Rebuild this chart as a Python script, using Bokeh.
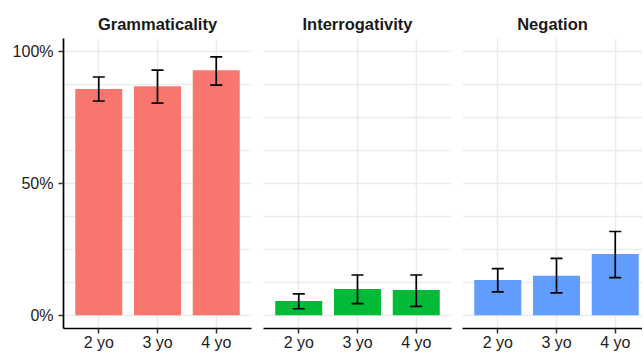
from bokeh.plotting import figure
from bokeh.layouts import row
from bokeh.models import Range1d, FixedTicker, ColumnDataSource, Whisker, TeeHead
from bokeh.embed import file_html
from bokeh.resources import INLINE

ages = ["2 yo", "3 yo", "4 yo"]
panels = ["Grammaticality", "Interrogativity", "Negation"]
colors = ["#F8766D", "#00BA38", "#619CFF"]

gram_mean = [0.858, 0.869, 0.930]
gram_low = [0.813, 0.805, 0.873]
gram_high = [0.904, 0.930, 0.980]

inter_mean = [0.054, 0.100, 0.096]
inter_low = [0.025, 0.044, 0.034]
inter_high = [0.081, 0.153, 0.153]

neg_mean = [0.134, 0.150, 0.233]
neg_low = [0.089, 0.085, 0.143]
neg_high = [0.177, 0.216, 0.318]

means = [gram_mean, inter_mean, neg_mean]
lows = [gram_low, inter_low, neg_low]
highs = [gram_high, inter_high, neg_high]

y_ticks = [0, 0.5, 1.0]
y_labels = {0: "0%", 0.5: "50%", 1.0: "100%"}
grid_ticks = [i * 0.125 for i in range(9)]

FONT = "Liberation Sans"
PX_PER_UNIT = 188 / 3.2

figs = []
layout_specs = [
    dict(left=63, right=6, fw=188),
    dict(left=6, right=5, fw=188),
    dict(left=6, right=0, fw=180),
]
for i, name in enumerate(panels):
    spec = layout_specs[i]
    x_end = 0.4 + spec["fw"] / PX_PER_UNIT
    p = figure(
        width=spec["left"] + spec["fw"] + spec["right"],
        height=354,
        x_range=Range1d(0.4, x_end),
        y_range=Range1d(-0.05, 1.05),
        output_backend="svg",
        toolbar_location=None,
        y_axis_location="left" if i == 0 else None,
        min_border_left=spec["left"],
        min_border_right=spec["right"],
        min_border_top=38,
        min_border_bottom=26,
    )
    p.outline_line_color = None
    p.background_fill_color = "white"
    p.border_fill_color = "white"

    xs = [k + 1 for k in range(len(ages))]
    src = ColumnDataSource(dict(x=xs, top=means[i], low=lows[i], high=highs[i]))

    p.vbar(x="x", top="top", bottom=0, width=0.8, source=src,
           fill_color=colors[i], line_color=None)
    w = Whisker(base="x", lower="low", upper="high", source=src,
                line_color="black", line_width=1.7, level="overlay",
                upper_head=TeeHead(size=12, line_color="black", line_width=1.7),
                lower_head=TeeHead(size=12, line_color="black", line_width=1.7))
    p.add_layout(w)

    # x axis
    p.xaxis.ticker = FixedTicker(ticks=xs)
    p.xaxis.major_label_overrides = {x: a for x, a in zip(xs, ages)}
    p.xaxis.axis_line_color = "black"
    p.xaxis.axis_line_width = 1.7
    p.xaxis.major_tick_line_color = "#333333"
    p.xaxis.major_tick_line_width = 1.5
    p.xaxis.major_tick_out = 5
    p.xaxis.major_tick_in = 0
    p.xaxis.minor_tick_line_color = None
    p.xaxis.major_label_text_font = FONT
    p.xaxis.major_label_text_font_size = "16px"
    p.xaxis.major_label_text_color = "#222222"
    p.xaxis.major_label_standoff = 0

    if i == 0:
        p.yaxis.ticker = FixedTicker(ticks=y_ticks)
        p.yaxis.major_label_overrides = y_labels
        p.yaxis.axis_line_color = "black"
        p.yaxis.axis_line_width = 1.7
        p.yaxis.major_tick_line_color = "#333333"
        p.yaxis.major_tick_line_width = 1.5
        p.yaxis.major_tick_out = 5
        p.yaxis.major_tick_in = 0
        p.yaxis.minor_tick_line_color = None
        p.yaxis.major_label_text_font = FONT
        p.yaxis.major_label_text_font_size = "16px"
        p.yaxis.major_label_text_color = "#222222"
        p.yaxis.major_label_standoff = 5

    p.xgrid.ticker = FixedTicker(ticks=xs)
    p.ygrid.ticker = FixedTicker(ticks=grid_ticks)
    p.xgrid.grid_line_color = "#EBEBEB"
    p.ygrid.grid_line_color = "#EBEBEB"
    p.xgrid.grid_line_width = 1.5
    p.ygrid.grid_line_width = 1.5

    p.title.text = name
    p.title.align = "center"
    p.title.text_font = FONT
    p.title.text_font_style = "bold"
    p.title.text_font_size = "16.5px"
    p.title.text_color = "#1A1A1A"
    p.title.standoff = 12
    figs.append(p)

layout = row(*figs, spacing=0)
open("out.html", "w").write(file_html(layout, INLINE))
